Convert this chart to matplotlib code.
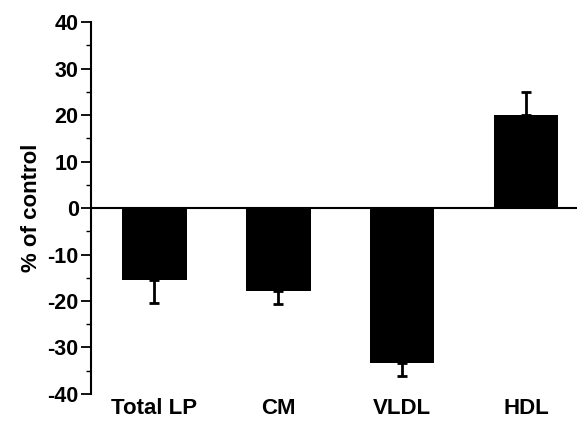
import matplotlib.pyplot as plt
from matplotlib.ticker import MultipleLocator
import numpy as np

plt.rcParams['font.family'] = ['Liberation Sans', 'DejaVu Sans']
plt.rcParams['font.weight'] = 'bold'
plt.rcParams['axes.unicode_minus'] = False

categorias = ['Total LP', 'CM', 'VLDL', 'HDL']
valores = [-15.5, -17.8, -33.3, 20.0]
errores = [4.9, 2.8, 2.9, 5.0]

x = np.arange(len(categorias))
# error bar only on the side pointing away from zero
err_abajo = [e if v < 0 else 0 for v, e in zip(valores, errores)]
err_arriba = [e if v > 0 else 0 for v, e in zip(valores, errores)]

fig = plt.figure(figsize=(5.77, 4.25), dpi=100)
ax = fig.add_axes([0.158, 0.073, 0.842, 0.875])

ax.bar(x, valores, width=0.52, color='black', zorder=2)
ax.errorbar(x, valores, yerr=[err_abajo, err_arriba], fmt='none',
            ecolor='black', elinewidth=2, capsize=3.5, capthick=2, zorder=1)
ax.axhline(0, color='black', linewidth=1.5, zorder=3)

ax.set_xlim(-0.51, 3.41)
ax.set_ylim(-40, 40)
ax.yaxis.set_major_locator(MultipleLocator(10))
ax.yaxis.set_minor_locator(MultipleLocator(5))
ax.set_xticks(x)
ax.set_xticklabels(categorias, fontsize=16, fontweight='bold')
ax.tick_params(axis='x', length=0, pad=3)
ax.tick_params(axis='y', which='major', length=7, width=1.3, labelsize=15.5, pad=2)
ax.tick_params(axis='y', which='minor', length=3.5, width=1)
for lbl in ax.get_yticklabels():
    lbl.set_fontweight('bold')

for lado in ['top', 'right', 'bottom']:
    ax.spines[lado].set_visible(False)
ax.spines['left'].set_linewidth(1.5)

ax.set_ylabel('% of control', fontsize=16, fontweight='bold', labelpad=4)

plt.savefig('out.png', dpi=100)
